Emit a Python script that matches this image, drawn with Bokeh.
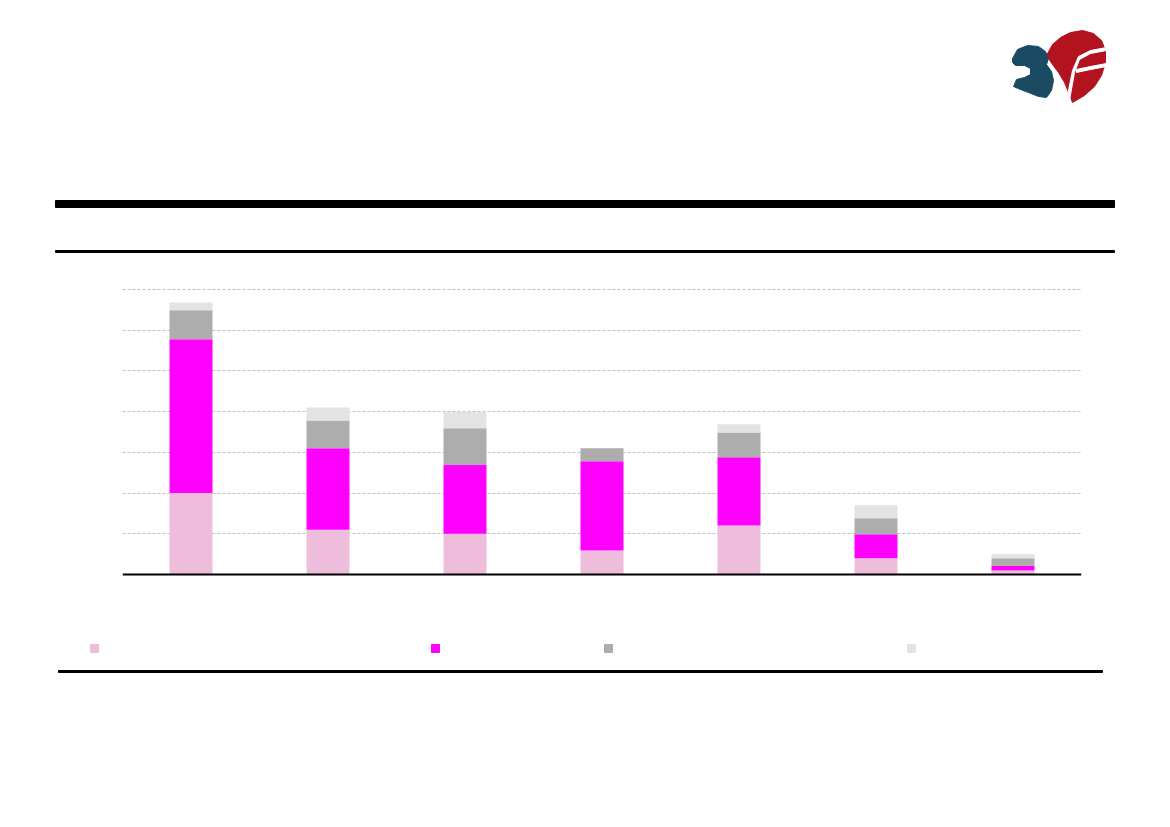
from bokeh.plotting import figure
from bokeh.models import Range1d, FactorRange, Grid, FixedTicker, Span, ColumnDataSource
from bokeh.embed import file_html
from bokeh.resources import INLINE

# ---------------- data ----------------
categories = ["1", "2", "3", "4", "5", "6", "7"]
series_keys = ["s1", "s2", "s3", "s4"]
s1 = [2.0, 1.1, 1.0, 0.59, 1.2, 0.4, 0.1]
s2 = [3.78, 2.0, 1.69, 2.19, 1.68, 0.59, 0.11]
s3 = [0.71, 0.68, 0.9, 0.32, 0.61, 0.39, 0.19]
s4 = [0.19, 0.32, 0.4, 0.0, 0.2, 0.32, 0.1]
y_ticks = [1, 2, 3, 4, 5, 6, 7]
colors = ["#EFBDDC", "#FF00FF", "#ADADAD", "#E3E3E3"]

W = 1154

def blank(fig):
    fig.xgrid.visible = False
    fig.ygrid.visible = False
    fig.outline_line_color = None
    return fig

# ---------------- header (logo + rules) ----------------
h = figure(width=W, height=260, x_range=Range1d(0, W), y_range=Range1d(260, 0),
           x_axis_location=None, y_axis_location=None, toolbar_location=None,
           output_backend="svg", min_border=0)
blank(h)
h.quad(left=[55], right=[1114], top=[200], bottom=[207], color="black")
h.quad(left=[55], right=[1114], top=[250], bottom=[252], color="black")

# logo "3F"
red_x = [1046, 1052, 1060, 1070, 1082, 1093, 1101, 1105, 1105, 1101, 1094, 1084, 1072, 1068, 1064, 1058, 1052]
red_y = [55, 44, 37, 32, 30, 33, 40, 50, 62, 75, 86, 95, 102, 92, 82, 72, 64]
h.patch(red_x, red_y, color="#B3121F")
h.patch([1066, 1072, 1078, 1090, 1106, 1106, 1090, 1079, 1074, 1069],
         [100, 70, 56, 50, 47, 50, 53, 59, 72, 100], color="white")
h.patch([1076, 1090, 1106, 1106, 1090, 1076],
         [69, 66, 63, 66, 69, 72], color="white")
blue_x = [1012, 1017, 1027, 1038, 1045, 1048, 1046, 1051, 1053, 1051, 1046, 1038, 1028, 1020, 1013,
          1016, 1024, 1030, 1030, 1024, 1015, 1012]
blue_y = [58, 49, 45, 46, 51, 58, 64, 71, 80, 90, 97, 96, 92, 89, 86,
          79, 77, 74, 68, 65, 65, 62]
h.patch(blue_x, blue_y, color="#1B4B63")

# ---------------- chart ----------------
src = ColumnDataSource(dict(cat=categories, s1=s1, s2=s2, s3=s3, s4=s4))
c = figure(width=W, height=340, x_range=FactorRange(*categories), y_range=Range1d(-0.05, 7.05),
           x_axis_location=None, y_axis_location=None, toolbar_location=None,
           output_backend="svg", min_border_left=122, min_border_right=73,
           min_border_top=27, min_border_bottom=24)
blank(c)
c.add_layout(Grid(dimension=1, ticker=FixedTicker(ticks=y_ticks),
                  grid_line_color="#BFBFBF", grid_line_dash="3 2", grid_line_width=1))
c.vbar_stack(series_keys, x="cat", width=0.314, fill_color=colors, line_color=None, source=src)
c.add_layout(Span(location=0, dimension="width", line_color="black", line_width=2))

# ---------------- footer (legend swatches + rule) ----------------
f = figure(width=W, height=120, x_range=Range1d(0, W), y_range=Range1d(720, 600),
           x_axis_location=None, y_axis_location=None, toolbar_location=None,
           output_backend="svg", min_border=0)
blank(f)
f.rect(x=[94, 435, 608, 911], y=[648] * 4, width=8, height=8, color=colors)
f.quad(left=[58], right=[1102], top=[670], bottom=[672], color="black")

open("out.html", "w").write(file_html([h, c, f], INLINE))
